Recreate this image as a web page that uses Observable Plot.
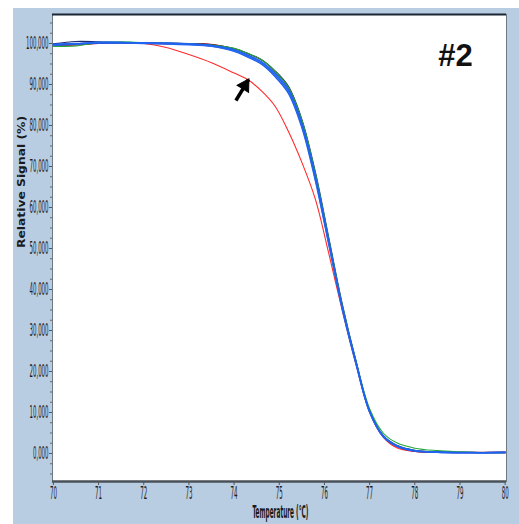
<!DOCTYPE html>
<html><head><meta charset="utf-8">
<script src="https://cdn.jsdelivr.net/npm/d3@7"></script>
<script src="https://cdn.jsdelivr.net/npm/@observablehq/plot@0.6"></script>
<style>
html,body{margin:0;padding:0;background:#fff;}
#wrap{position:relative;width:519px;height:524px;overflow:hidden;}
#bg{position:absolute;left:13px;top:8px;right:0;bottom:0;background:#b9cde2;}
#chart{position:absolute;left:0;top:0;}
#chart svg g[aria-label="y-axis tick label"] text{font-size:17px !important;}
#chart svg g[aria-label="x-axis tick label"] text{font-size:18px !important;}
</style></head><body>
<div id="wrap"><div id="bg"></div><div id="chart"></div></div>
<script>
const temps = [70, 70.5, 71, 71.5, 72, 72.5, 73, 73.5, 74, 74.3, 74.6, 74.9, 75.2, 75.5, 75.8, 76.1, 76.4, 76.7, 77, 77.3, 77.6, 78, 78.5, 79, 79.5, 80];
const red     = [99.6, 99.8, 100.1, 100.2, 100.0, 99.0, 97.3, 95.3, 92.8, 91.2, 88.5, 84.8, 78.6, 71.0, 62.0, 48.6, 34.6, 21.6, 10.0, 4.0, 1.4, 0.5, 0.3, 0.2, 0.2, 0.2];
const navy    = [99.9, 100.5, 100.4, 100.2, 100.1, 100.1, 100.0, 99.7, 98.8, 97.6, 96.1, 93.4, 89.6, 81.5, 68.6, 52.4, 36.2, 22.5, 10.5, 4.4, 2.0, 0.8, 0.4, 0.3, 0.2, 0.2];
const darkRed = [99.5, 99.6, 100.0, 100.1, 100.0, 99.9, 100.0, 99.8, 98.7, 97.5, 96.0, 93.2, 89.2, 81.0, 68.0, 51.9, 35.8, 22.3, 10.4, 4.2, 1.7, 0.5, 0.3, 0.3, 0.3, 0.4];
const green   = [99.3, 99.4, 100.2, 100.4, 100.2, 100.1, 99.9, 99.6, 98.8, 97.6, 96.1, 93.3, 89.4, 81.3, 68.3, 52.1, 36.0, 22.5, 10.9, 5.0, 2.6, 1.3, 0.7, 0.4, 0.2, 0.2];
const blueB   = [99.8, 100.0, 100.2, 100.1, 100.0, 99.9, 99.7, 99.3, 98.1, 96.7, 95.0, 92.0, 87.9, 79.5, 66.5, 50.8, 35.0, 21.8, 10.1, 4.1, 1.8, 0.6, 0.3, 0.2, 0.2, 0.3];
const blueC   = [99.6, 99.9, 100.3, 100.3, 100.1, 100.0, 99.8, 99.4, 98.3, 96.9, 95.3, 92.4, 88.3, 80.0, 67.0, 51.1, 35.2, 22.0, 10.2, 4.2, 1.9, 0.7, 0.3, 0.2, 0.2, 0.3];
const blueA   = [99.7, 99.9, 100.1, 100.2, 100.2, 100.1, 99.9, 99.5, 98.5, 97.2, 95.6, 92.8, 88.8, 80.5, 67.5, 51.5, 35.5, 22.2, 10.3, 4.3, 1.9, 0.7, 0.35, 0.25, 0.2, 0.2];

const seriesNames  = ["red", "navy", "darkRed", "green", "blueB", "blueC", "blueA"];
const seriesValues = [red, navy, darkRed, green, blueB, blueC, blueA];
const seriesColors = ["#ff2b2b", "#1c2a6e", "#8b1424", "#22a83a", "#1f5ee8", "#2a6cf0", "#1d62f2"];
const seriesWidths = [1.1, 1.1, 1.0, 1.1, 1.5, 1.5, 1.5];

const xTicks = [70, 71, 72, 73, 74, 75, 76, 77, 78, 79, 80];
const yTicks = [0, 10, 20, 30, 40, 50, 60, 70, 80, 90, 100];
const yMinorTicks = [-5, -2.5, 2.5, 5, 7.5, 12.5, 15, 17.5, 22.5, 25, 27.5, 32.5, 35, 37.5, 42.5, 45, 47.5, 52.5, 55, 57.5, 62.5, 65, 67.5, 72.5, 75, 77.5, 82.5, 85, 87.5, 92.5, 95, 97.5, 102.5, 105];
const xDomain = [69.98, 80.03];
const yDomain = [-6.83, 107.07];

const arrowTail = {x: 74.04, y: 86.1};
const arrowTip  = {x: 74.32, y: 91.2};
const panelTag = "#2";
const xLabel = "Temperature (°C)";
const yLabel = "Relative Signal (%)";

const rows = [];
seriesNames.forEach((name, i) => {
  temps.forEach((t, j) => rows.push({series: name, t, v: seriesValues[i][j]}));
});

const fmt = d => d3.format(".3f")(d).replace(".", ",");
const narrow = "'Liberation Sans Narrow', 'DejaVu Sans Condensed', 'Liberation Sans', sans-serif";

const lineMarks = seriesNames.map((name, i) =>
  Plot.line(rows.filter(r => r.series === name), {
    x: "t", y: "v", stroke: seriesColors[i], strokeWidth: seriesWidths[i], curve: "catmull-rom"
  })
);

const headBack = 7;
const adx = 13, ady = -21;
const alen = Math.hypot(adx, ady);
const headAngle = Math.atan2(adx, -ady) * 180 / Math.PI;

const chart = Plot.plot({
  width: 519, height: 524,
  marginLeft: 52, marginTop: 14, marginRight: 13, marginBottom: 43,
  style: {background: "transparent", fontFamily: narrow, color: "#1e1e1e"},
  x: {domain: xDomain, axis: null},
  y: {domain: yDomain, axis: null},
  marks: [
    Plot.frame({fill: "white", stroke: "#707880", strokeWidth: 1}),
    ...lineMarks,
    Plot.ruleY([yDomain[1]], {stroke: "#1b2636", strokeWidth: 2}),
    Plot.ruleY([yDomain[0]], {stroke: "#4a5058", strokeWidth: 2.5}),
    Plot.axisX({ticks: xTicks, tickSize: 4, tickPadding: 1, tickFormat: d => String(d), anchor: "bottom", stroke: "#555", fontSize: 18}),
    Plot.axisY({ticks: yTicks, tickSize: 3, tickPadding: 1, tickFormat: fmt, anchor: "left", stroke: "#555", fontSize: 17}),
    Plot.axisY({ticks: yMinorTicks, tickSize: 2, tickFormat: () => "", anchor: "left", stroke: "#666"}),
    Plot.link([{x1: arrowTail.x, y1: arrowTail.y, x2: arrowTip.x, y2: arrowTip.y}], {
      x1: "x1", y1: "y1", x2: "x2", y2: "y2", stroke: "black", strokeWidth: 3.5
    }),
    Plot.dot([arrowTip], {x: "x", y: "y", symbol: "triangle", r: 5, fill: "black", stroke: "black", strokeWidth: 1,
      rotate: headAngle, dx: -adx / alen * headBack, dy: -ady / alen * headBack}),
    Plot.text([panelTag], {frameAnchor: "top-right", dx: -51, dy: 42, text: d => d, fontSize: 31, fontWeight: "bold", fontFamily: "'Liberation Sans', Arial, sans-serif", fill: "#111", lineAnchor: "middle", textAnchor: "middle"}),
    Plot.text([xLabel], {frameAnchor: "bottom", dy: 31, text: d => d, fontSize: 17, fontWeight: "bold", fill: "#1a1a1a", lineAnchor: "middle", dx: 1}),
    Plot.text([yLabel], {frameAnchor: "left", dx: -31, dy: 0, rotate: -90, text: d => d, fontSize: 10, fontWeight: "bold", fontFamily: "'DejaVu Sans', sans-serif", fill: "#1a1a1a", lineAnchor: "middle"})
  ]
});
document.getElementById("chart").appendChild(chart);

// condense text like the reference's narrow instrument font
const svg = d3.select(chart);
svg.selectAll('g[aria-label="y-axis tick label"] text').each(function() {
  const s = this.textContent;
  if (!s) return;
  const digits = s.replace(/[^0-9]/g, "").length;
  this.setAttribute("textLength", digits * 3.5 + 1.5);
  this.setAttribute("lengthAdjust", "spacingAndGlyphs");
});
svg.selectAll('g[aria-label="x-axis tick label"] text').each(function() {
  this.setAttribute("textLength", 7);
  this.setAttribute("lengthAdjust", "spacingAndGlyphs");
});
svg.selectAll('g[aria-label="text"] text').each(function() {
  if (this.textContent === xLabel) { this.setAttribute("textLength", 56); this.setAttribute("lengthAdjust", "spacingAndGlyphs"); }
  if (this.textContent === yLabel) { this.setAttribute("textLength", 132); this.setAttribute("lengthAdjust", "spacingAndGlyphs"); }
});
</script>
</body></html>
